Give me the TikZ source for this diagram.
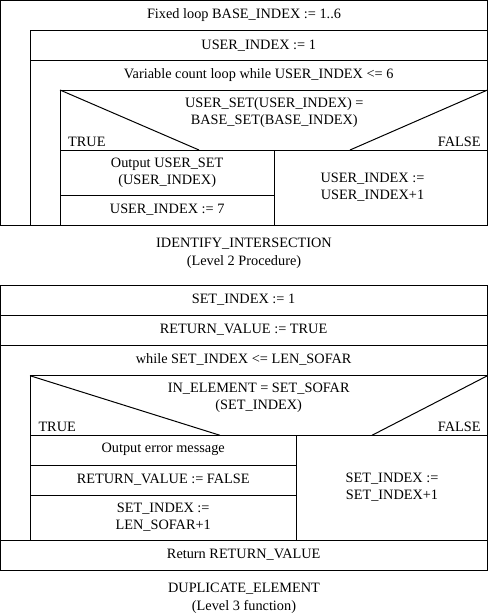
\documentclass[tikz,border=0pt]{standalone}
\usepackage{fontspec}
\setmainfont{Liberation Serif}
\tikzset{
  box/.style={draw=black, line width=1pt},
  ln/.style={draw=black, line width=1pt},
  txt/.style={inner sep=0pt, align=center, font=\fontsize{14.3}{17.3}\selectfont},
  captxt/.style={inner sep=0pt, align=center, font=\fontsize{14.3}{18.4}\selectfont},
}
\begin{document}
\begin{tikzpicture}[x=1pt,y=-1pt]
\useasboundingbox (0,0) rectangle (489,614);
% ---------- IDENTIFY_INTERSECTION ----------
\draw[box] (0.5,0.5) rectangle (487.5,225);
\draw[ln] (30,225) -- (30,30) -- (487.5,30);
\draw[ln] (30,60.5) -- (487.5,60.5);
\draw[ln] (60,225) -- (60,90) -- (487.5,90);
\draw[ln] (60,150) -- (487.5,150);
\draw[ln] (60,90) -- (199,150);
\draw[ln] (487.5,90) -- (350,150);
\draw[ln] (274.3,150) -- (274.3,225);
\draw[ln] (60,195.3) -- (274.3,195.3);
\node[txt] (a1) at (244,15.5) {Fixed loop BASE\_INDEX := 1..6};
\node[txt] (a2) at (258.7,45.5) {USER\_INDEX := 1};
\node[txt] (a3) at (258.7,75.5) {Variable count loop while USER\_INDEX <= 6};
\node[txt] (a4) at (274.3,112.5) {USER\_SET(USER\_INDEX) =\\BASE\_SET(BASE\_INDEX)};
\node[txt, anchor=west] (a5) at (68,142) {TRUE};
\node[txt, anchor=east] (a6) at (480.7,142) {FALSE};
\node[txt] (a7) at (167.2,172.7) {Output USER\_SET\\(USER\_INDEX)};
\node[txt] (a8) at (167.2,209.8) {USER\_INDEX := 7};
\node[txt] (a9) at (372.5,187.2) {USER\_INDEX :=\\USER\_INDEX+1};
\node[captxt] (a10) at (244,253) {IDENTIFY\_INTERSECTION\\(Level 2 Procedure)};
% ---------- DUPLICATE_ELEMENT ----------
\draw[box] (0.5,285) rectangle (487.5,570);
\draw[ln] (0.5,315) -- (487.5,315);
\draw[ln] (0.5,345) -- (487.5,345);
\draw[ln] (30,540) -- (30,375.7) -- (487.5,375.7);
\draw[ln] (30,435.3) -- (487.5,435.3);
\draw[ln] (30,375.7) -- (220,435.3);
\draw[ln] (487.5,375.7) -- (372,435.3);
\draw[ln] (296.3,435.3) -- (296.3,540);
\draw[ln] (30,465) -- (296.3,465);
\draw[ln] (30,495.3) -- (296.3,495.3);
\draw[ln] (0.5,540) -- (487.5,540);
\node[txt] (b1) at (243.5,299.8) {SET\_INDEX := 1};
\node[txt] (b2) at (243.5,329.8) {RETURN\_VALUE := TRUE};
\node[txt] (b3) at (243.7,359.8) {while SET\_INDEX <= LEN\_SOFAR};
\node[txt] (b4) at (258.7,397.5) {IN\_ELEMENT = SET\_SOFAR\\(SET\_INDEX)};
\node[txt, anchor=west] (b5) at (38.3,426.5) {TRUE};
\node[txt, anchor=east] (b6) at (480.7,426.5) {FALSE};
\node[txt] (b7) at (163.2,449.8) {Output error message};
\node[txt] (b8) at (163.2,479.5) {RETURN\_VALUE := FALSE};
\node[txt] (b9) at (163.2,517.2) {SET\_INDEX :=\\LEN\_SOFAR+1};
\node[txt] (b10) at (392,487.4) {SET\_INDEX :=\\SET\_INDEX+1};
\node[txt] (b11) at (243.7,554.5) {Return RETURN\_VALUE};
\node[captxt] (b12) at (244,598) {DUPLICATE\_ELEMENT\\(Level 3 function)};
\end{tikzpicture}
\end{document}
